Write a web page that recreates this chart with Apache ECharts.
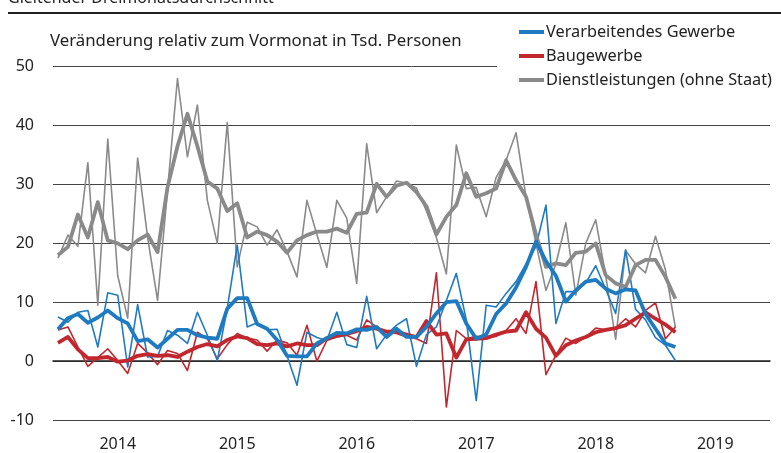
<!DOCTYPE html>
<html>
<head>
<meta charset="utf-8">
<script src="https://cdn.jsdelivr.net/npm/echarts@6/dist/echarts.min.js"></script>
<style>
html,body{margin:0;padding:0;background:#fff;}
#chart{width:781px;height:453px;}
</style>
</head>
<body>
<div id="chart"></div>
<script>
// Monthly categories, Jan 2014 .. Dec 2019
const years = [2014, 2015, 2016, 2017, 2018, 2019];
const months = [];
years.forEach(y => { for (let m = 1; m <= 12; m++) months.push(y + '-' + String(m).padStart(2, '0')); });

// Verarbeitendes Gewerbe: monthly change and 3-month moving average (Tsd. Personen)
const verarbMonat = [7.5, 6.6, 8.3, 8.6, 2.4, 11.6, 11.2, -1, 9.6, 0.7, 0.8, 5.2,
  4.4, 3, 8.3, 4.4, 0.1, 9, 19.7, 5.8, 6.5, 5.3, 5.4, 0.9,
  -4.1, 4.9, 4, 3.5, 8.3, 2.8, 2.3, 11, 2.1, 4.5, 6.1, 7.2,
  -0.9, 4.5, 5.8, 10.3, 14.9, 7, -6.7, 9.5, 9.2, 11.5, 13.5, 16.5,
  19.5, 26.5, 6.4, 11.8, 11.8, 13.3, 16.2, 12.2, 8.1, 18.9, 8.8, 7, 4, 2.7, 0.1];
const verarbSchnitt = [5.4, 7.3, 8, 6.5, 7.4, 8.6, 7.3, 6.4, 3.4, 3.7, 2.3, 3.8,
  5.3, 5.3, 4.4, 4, 3.8, 8.9, 10.7, 10.7, 6.3, 5.5, 3.6, 0.9,
  0.8, 0.8, 3, 3.9, 4.8, 4.7, 5.4, 5.3, 5.8, 4.1, 5.5, 4.1,
  4.1, 5.8, 8.1, 10, 10.2, 6.4, 3.8, 4.5, 8, 9.8, 12.5, 16,
  20.3, 17, 14.5, 10.1, 12, 13.5, 13.8, 12.3, 11.5, 12.2, 12, 8, 5.5, 3, 2.4];

// Baugewerbe
const bauMonat = [5.3, 5.8, 2.4, -0.9, 0.6, 2.1, 0.1, -2.1, 3, 1.4, -0.6, 1.8,
  1.3, -1.6, 4.9, 3.8, 0.4, 2.8, 4.7, 3.9, 3.6, 1.7, 3.6, 3.1,
  1, 6.1, 0, 3.5, 4.1, 4.4, 3.6, 7, 5.8, 5, 4.7, 4.1,
  3.8, 3, 15, -7.8, 5.2, 3.8, 4.2, 4.1, 4.2, 5.2, 7.2, 4.7,
  13.5, -2.3, 1, 3.9, 3, 4.1, 5.6, 5.3, 5.6, 7.2, 5.8, 8.6, 9.9, 3.8, 5.8];
const bauSchnitt = [3.1, 4.1, 2, 0.5, 0.5, 0.7, -0.1, 0.1, 0.9, 1.2, 0.9, 1,
  0.7, 1.6, 2.4, 2.9, 2.5, 3.6, 4.2, 3.9, 2.9, 2.7, 3, 2.5,
  3, 2.7, 2.7, 3.9, 4.3, 4.6, 5.1, 5.8, 5.5, 5, 5, 4.5,
  4.1, 6.8, 4.5, 4.7, 0.6, 3.7, 3.8, 3.9, 4.5, 5, 5.2, 8.3,
  5.5, 4, 0.9, 2.7, 3.5, 4.1, 4.9, 5.3, 5.6, 6.1, 7.2, 8.3, 7.2, 6.2, 4.9];

// Dienstleistungen (ohne Staat)
const dienstMonat = [17.5, 21.4, 19.5, 33.7, 9.5, 37.7, 14.5, 7.3, 34.5, 21, 10.3, 29,
  48, 34.7, 43.5, 27.3, 20, 40.5, 16, 23.6, 22.8, 19.7, 22.3, 18.6,
  14.3, 27.3, 21.5, 15.9, 27.3, 24.3, 13.2, 36.9, 25.2, 27.9, 30.6, 30.2,
  29.4, 25.5, 21, 14.8, 36.7, 29.3, 29.5, 24.5, 31.2, 34.1, 38.8, 27.9,
  20, 12, 16.5, 23.5, 11.2, 20, 24, 14.5, 3.7, 18.8, 16.5, 15, 21.2, 15.5, 5.7];
const dienstSchnitt = [18, 19.4, 24.9, 21, 27, 20.5, 20, 19, 20.5, 21.5, 18.5, 29.5,
  36.5, 42, 36.5, 30.5, 29.3, 25.5, 26.8, 21, 22, 21.4, 20.3, 18.4,
  20.5, 21.4, 22, 22, 22.5, 21.8, 25, 25.2, 30.1, 27.9, 29.8, 30.3,
  28.7, 26.3, 21.5, 24.5, 26.5, 31.9, 27.9, 28.5, 29.3, 34.1, 30.7, 27.9,
  21.5, 16, 16.6, 16.3, 18.4, 18.6, 20, 14.6, 13.2, 12.6, 16.3, 17.2, 17.2, 14.3, 10.6];

const yTicks = { min: -10, max: 50, step: 10 };

const BLUE = '#1f7bc1';
const RED = '#c1272d';
const GREY = '#8a8a8a';
const FONT = '"Noto Sans"';

function line(name, data, color, width, z) {
  return {
    name: name, type: 'line', data: data, symbol: 'none', silent: true,
    lineStyle: { color: color, width: width, join: 'round' },
    itemStyle: { color: color }, z: z, animation: false
  };
}

const chart = echarts.init(document.getElementById('chart'), null, { renderer: 'canvas' });
chart.setOption({
  animation: false,
  backgroundColor: '#fff',
  textStyle: { fontFamily: FONT },
  grid: { left: 53, right: 11, top: 66.7, bottom: 33 },
  graphic: [
    { type: 'text', left: 8, top: -10, z: 50,
      style: { text: 'Gleitender Dreimonatsdurchschnitt', fontSize: 16, fontFamily: FONT, fill: '#222' } },
    { type: 'line', z: 50, shape: { x1: 8, y1: 13, x2: 781, y2: 13 }, style: { stroke: '#222', lineWidth: 2 } },
    { type: 'text', left: 50, top: 33, z: 50,
      style: { text: 'Veränderung relativ zum Vormonat in Tsd. Personen', fontSize: 16.8, fontFamily: FONT, fill: '#222' } },
    { type: 'rect', z: 100, shape: { x: 497, y: 18, width: 284, height: 74 }, style: { fill: '#fff' } }
  ],
  legend: {
    z: 200, orient: 'vertical', left: 514, top: 19, itemGap: 8,
    icon: 'rect', itemWidth: 25, itemHeight: 4,
    textStyle: { fontSize: 16.3, fontFamily: FONT, color: '#222', lineHeight: 16, padding: [0, 0, 0, -3] },
    data: ['Verarbeitendes Gewerbe', 'Baugewerbe', 'Dienstleistungen (ohne Staat)']
  },
  xAxis: {
    type: 'category', data: months, boundaryGap: true,
    axisLine: { lineStyle: { color: '#222', width: 1.5 } },
    axisTick: { length: 5, lineStyle: { color: '#222', width: 1.5 }, interval: (i) => i % 12 === 0 },
    axisLabel: { interval: (i) => i % 12 === 6, formatter: (v) => v.slice(0, 4),
      fontSize: 16, fontFamily: FONT, color: '#222', margin: 16 },
    splitLine: { show: false }
  },
  yAxis: {
    type: 'value', min: yTicks.min, max: yTicks.max, interval: yTicks.step,
    axisLine: { show: false }, axisTick: { show: false },
    axisLabel: { fontSize: 16, fontFamily: FONT, color: '#222', margin: 19 },
    splitLine: { lineStyle: { color: '#444', width: 1 } }
  },
  series: [
    line('Dienstleistungen monatlich', dienstMonat, GREY, 1.6, 2),
    line('Baugewerbe monatlich', bauMonat, RED, 1.6, 2),
    line('Verarbeitendes Gewerbe monatlich', verarbMonat, BLUE, 1.6, 2),
    line('Dienstleistungen (ohne Staat)', dienstSchnitt, GREY, 3.8, 3),
    line('Baugewerbe', bauSchnitt, RED, 3.8, 3),
    line('Verarbeitendes Gewerbe', verarbSchnitt, BLUE, 3.8, 3)
  ]
});
</script>
</body>
</html>
